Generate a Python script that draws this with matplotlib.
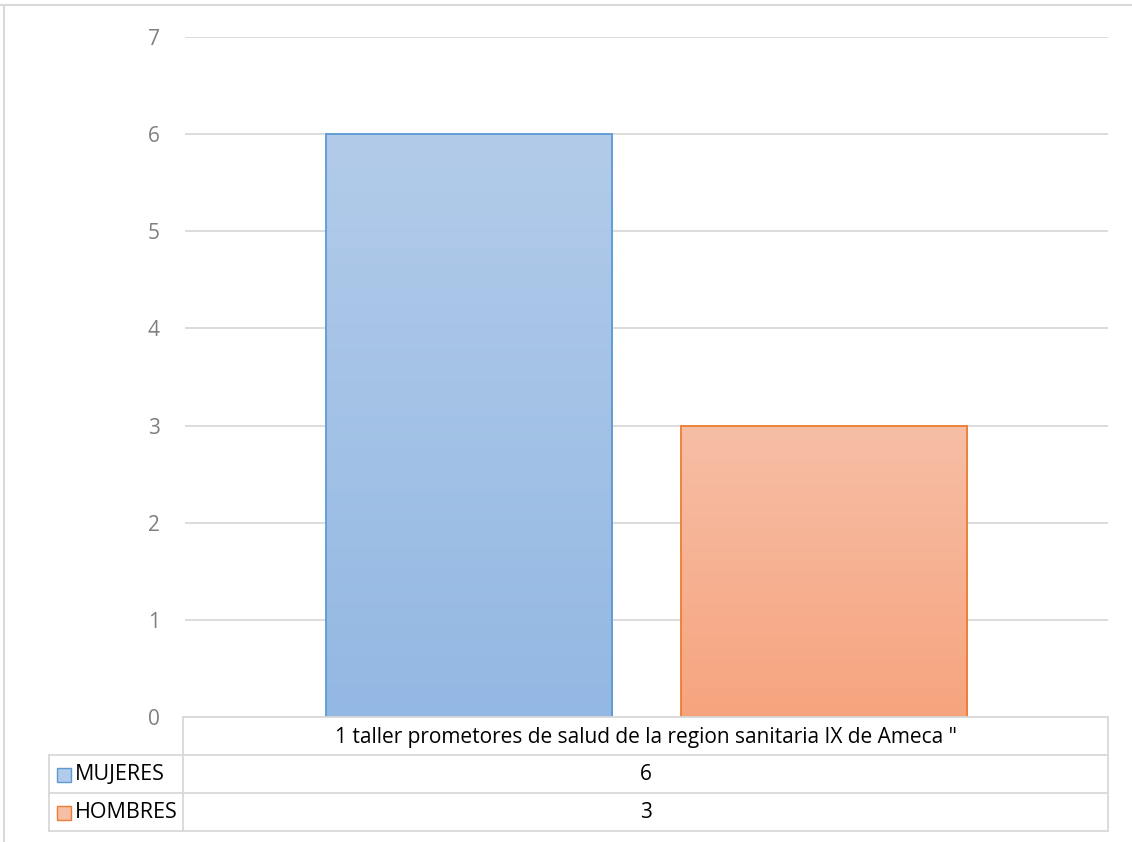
import numpy as np
import matplotlib.pyplot as plt
from matplotlib.patches import Rectangle
from matplotlib.lines import Line2D

# data
category = '1 taller prometores de salud de la region sanitaria IX de Ameca "'
series = ['MUJERES', 'HOMBRES']
values = [6, 3]
y_ticks = [0, 1, 2, 3, 4, 5, 6, 7]

# colours: (top, bottom, edge)
colors = [('#b2cbe9', '#93b8e3', '#5b9bd5'),
          ('#f7bea6', '#f6a47e', '#ed7d31')]

W, H = 1132, 842
fig = plt.figure(figsize=(W / 100, H / 100), dpi=100)
plt.rcParams['font.family'] = ['Open Sans', 'DejaVu Sans']

def fx(px):
    return px / W

def fy(py):
    return 1 - py / H

ax = fig.add_axes([fx(185), fy(717), fx(1108) - fx(185), fy(37) - fy(717)])
ax.set_ylim(0, 7)
ax.set_xlim(-0.5, 0.5)
ax.set_yticks(y_ticks)
ax.set_yticklabels([str(t) for t in y_ticks], color='#7f7f7f', fontsize=15)
ax.tick_params(axis='y', length=0, pad=18)
ax.set_xticks([])
for s in ax.spines.values():
    s.set_visible(False)
ax.yaxis.grid(True, color='#d9d9d9', linewidth=1.3)
ax.set_axisbelow(True)

offsets = [-0.192, 0.192]
width = 0.31
for off, v, (c_top, c_bot, c_edge) in zip(offsets, values, colors):
    bar = ax.bar(off, v, width=width, color='none', edgecolor=c_edge, linewidth=1.3, zorder=3)[0]
    grad = np.linspace(0, 1, 256).reshape(-1, 1)
    top = np.array(plt.matplotlib.colors.to_rgb(c_top))
    bot = np.array(plt.matplotlib.colors.to_rgb(c_bot))
    img = top[None, None, :] * (1 - grad[:, :, None]) + bot[None, None, :] * grad[:, :, None]
    im = ax.imshow(img, extent=[off - width / 2, off + width / 2, 0, v],
                   aspect='auto', zorder=2, origin='upper')
    im.set_clip_path(bar)
ax.set_xlim(-0.5, 0.5)
ax.set_ylim(0, 7)

# data table
grid_c = '#d9d9d9'
def hline(y, x0, x1):
    fig.add_artist(Line2D([fx(x0), fx(x1)], [fy(y), fy(y)], color=grid_c, lw=1.3))

def vline(x, y0, y1):
    fig.add_artist(Line2D([fx(x), fx(x)], [fy(y0), fy(y1)], color=grid_c, lw=1.3))

hline(717, 183, 1108)
hline(755, 49, 1108)
hline(793, 49, 1108)
hline(831, 49, 1108)
vline(183, 717, 831)
vline(1108, 717, 831)
vline(49, 755, 831)

fig.text(fx(646), fy(737), category, ha='center', va='center', fontsize=15, color='#000000')
row_y = [775, 813]
for name, v, yy, (c_top, c_bot, c_edge) in zip(series, values, row_y, colors):
    fig.text(fx(646), fy(yy), str(v), ha='center', va='center', fontsize=15)
    fig.add_artist(Rectangle((fx(57), fy(yy + 7)), fx(14), 14 / H, facecolor=c_top,
                             edgecolor=c_edge, lw=1))
    fig.text(fx(75), fy(yy), name, ha='left', va='center', fontsize=15.5)

# outer chart border
fig.add_artist(Line2D([0, 1], [fy(5), fy(5)], color=grid_c, lw=1.5))
fig.add_artist(Line2D([fx(3.5), fx(3.5)], [fy(6), 0], color=grid_c, lw=1.5))

fig.savefig('out.png', dpi=100)
